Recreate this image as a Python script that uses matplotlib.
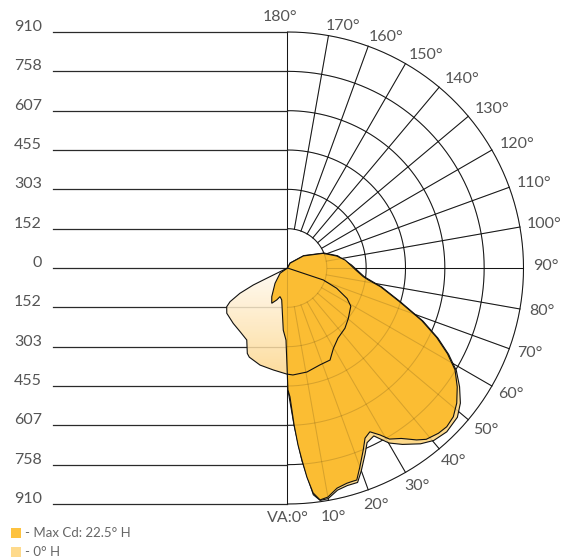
import numpy as np
import matplotlib.pyplot as plt
from matplotlib.patches import Polygon, Rectangle
from matplotlib.colors import LinearSegmentedColormap

plt.rcParams['font.family'] = ['Lato', 'DejaVu Sans']

# scale values (cd) and angle ticks
cd_max = 910
scale_labels = ['910', '758', '607', '455', '303', '152', '0',
                '152', '303', '455', '607', '758', '910']
angle_ticks = list(range(0, 190, 10))
angle_labels = ['VA:0°'] + [f'{a}°' for a in range(10, 190, 10)]

# Max Cd: 22.5° H  (angle from nadir, cd)
max_ang = [0, -54.7, -39.2, -28.8, -24.1, -18.6, -14.6, -10.3, -3.9, -1.2,
           0.2, 1.1, 2.4, 3.4, 4.3, 5.3, 6.5, 8.0, 10.0, 12.7, 15.4, 16.7,
           18.1, 20.0, 22.6, 24.5, 26.7, 29.0, 30.8, 33.7, 35.0, 36.9, 39.0,
           42.4, 45.1, 48.1, 51.4, 55.0, 58.7, 61.8, 65.0, 68.6, 73.3, 78.6,
           81.6, 83.5, 88.0, 92.7, 97.7, 103.7, 112.3, 127.2, 152.0]
max_cd = [0, 35, 76, 126, 149, 130, 114, 125, 240, 278,
          470, 497, 605, 684, 742, 810, 873, 903, 897, 870, 861, 860,
          860, 816, 760, 721, 707, 736, 768, 790, 805, 829, 850,
          863, 867, 859, 835, 799, 756, 700, 635, 556, 450, 366,
          315, 294, 265, 243, 225, 195, 149, 77, 21]

# 0° H, outer trace on the right
h0_ang = [0, 0.2, 2.4, 4.3, 6.5, 8.0, 10.0, 12.7, 15.4, 18.1, 20.0, 22.6,
          24.5, 27.2, 30.1, 33.1, 37.1, 40.3, 44.2, 48.7, 52.0, 55.4, 58.7,
          61.8, 65.0, 68.6, 73.3, 78.6, 83.5, 92.7, 103.7, 112.3, 127.2, 152.0]
h0_cd = [0, 470, 607, 746, 880, 905, 903, 878, 870, 870, 832, 778,
         740, 728, 780, 812, 850, 872, 881, 872, 846, 806, 762,
         705, 640, 561, 455, 370, 298, 247, 199, 152, 79, 22]

# 0° H, closed loop (C180 on the left, C0 inner part on the right)
loop_ang = [0, -63.7, -63.6, -62.0, -59.6, -57.5, -53.3, -44.4, -36.7, -29.5,
            -25.2, -23.2, -15.8, -7.9, -0.4, 2.9, 10.6, 18.5, 24.8, 29.7,
            35.8, 43.6, 50.2, 58.9, 62.9, 67.6, 71.5, 71.5]
loop_cd = [0, 89, 147, 208, 257, 278, 292, 299, 306, 319,
           364, 374, 389, 397, 409, 413, 408, 394, 391, 357,
           333, 321, 305, 285, 258, 205, 146, 64]

dark = '#FBBD33'
light = '#FDD98B'
txt = '#555555'


def to_xy(ang, cd):
    a = np.radians(np.asarray(ang, dtype=float))
    cd = np.asarray(cd, dtype=float)
    return np.column_stack([cd * np.sin(a), -cd * np.cos(a)])


k = cd_max / 236.0  # cd per pixel
fig = plt.figure(figsize=(5.66, 5.60), dpi=100)
ax = fig.add_axes([0, 0, 1, 1])

# grid
step = cd_max / 6
th = np.linspace(0, 180, 361)


def draw_grid(color, alpha, z):
    for i in range(1, 7):
        p = to_xy(th, np.full_like(th, i * step))
        ax.plot(p[:, 0], p[:, 1], color=color, lw=0.75, alpha=alpha, zorder=z)
    for a in range(10, 180, 10):
        p = to_xy([a, a], [step, cd_max])
        ax.plot(p[:, 0], p[:, 1], color=color, lw=0.75, alpha=alpha, zorder=z)
    ax.plot([0, 0], [-cd_max, cd_max], color=color, lw=0.75, alpha=alpha, zorder=z)


draw_grid('#1a1a1a', 1.0, 1)
draw_grid('#000000', 0.14, 6)

x_left = (53 - 287.5) * k
for i, lab in zip(range(6, -7, -1), scale_labels):
    y = i * step
    ax.plot([x_left, 0], [y, y], color='#2a2a2a', lw=0.9, zorder=1)
    ax.text((42 - 287.5) * k, y + 1 * k, lab, ha='right', va='baseline',
            fontsize=11.5, color=txt)

for a, lab in zip(angle_ticks, angle_labels):
    t = np.radians(a)
    s, c = np.sin(t), np.cos(t)
    px, py = cd_max * s, -cd_max * c
    if a == 0:
        dx, dy = 0.5, 14
    elif a == 180:
        dx, dy = -7.5, -15
    elif c > 0:
        dx, dy = 1 + 21 * s, 18 * c - 1.5
    else:
        dx, dy = 2 + 21 * s + 9 * (-c), 8 * c - 2
    ax.text(px + dx * k, py - dy * k, lab, ha='center', va='center',
            fontsize=11.5, color=txt)

# 0° H outer trace
band = Polygon(to_xy(h0_ang, h0_cd), closed=True, fc=light, ec='#111111',
               lw=0.8, zorder=2)
ax.add_patch(band)

# 0° H loop with gradient fill
loop_xy = to_xy(loop_ang, loop_cd)
loop_patch = Polygon(loop_xy, closed=True, fc='none', ec='none', zorder=2.5)
ax.add_patch(loop_patch)
cmap = LinearSegmentedColormap.from_list('fade', ['#FFFAF2', '#FDD68A'])
grad = np.linspace(0, 1, 256).reshape(-1, 1)
im = ax.imshow(grad, extent=[-300, 450, -420, 0], origin='upper', cmap=cmap,
               aspect='auto', alpha=0.85, zorder=2.5)
im.set_clip_path(loop_patch)

# Max Cd 22.5° H
main = Polygon(to_xy(max_ang, max_cd), closed=True, fc=dark, ec='#111111',
               lw=0.8, zorder=3)
ax.add_patch(main)

# loop outline on top
loop_line = Polygon(loop_xy, closed=True, fc='none', ec='#111111', lw=0.8, zorder=4)
ax.add_patch(loop_line)

ax.set_xlim(-287.5 * k, (566 - 287.5) * k)
ax.set_ylim(-(560 - 268) * k, 268 * k)
ax.set_aspect('equal')
ax.axis('off')

# legend
fig.patches.append(Rectangle((10.7 / 566, 1 - 538.3 / 560), 10 / 566, 10 / 560,
                             transform=fig.transFigure, fc='#FDC23F', ec='none'))
fig.patches.append(Rectangle((10.7 / 566, 1 - 556.7 / 560), 10 / 566, 10 / 560,
                             transform=fig.transFigure, fc='#FEDA8C', ec='none'))
fig.text(25 / 566, 1 - 533.2 / 560, '- Max Cd: 22.5° H', ha='left', va='center',
         fontsize=9.5, color='#666666')
fig.text(25 / 566, 1 - 551.7 / 560, '- 0° H', ha='left', va='center',
         fontsize=9.5, color='#666666')

fig.savefig('out.png', dpi=100)
